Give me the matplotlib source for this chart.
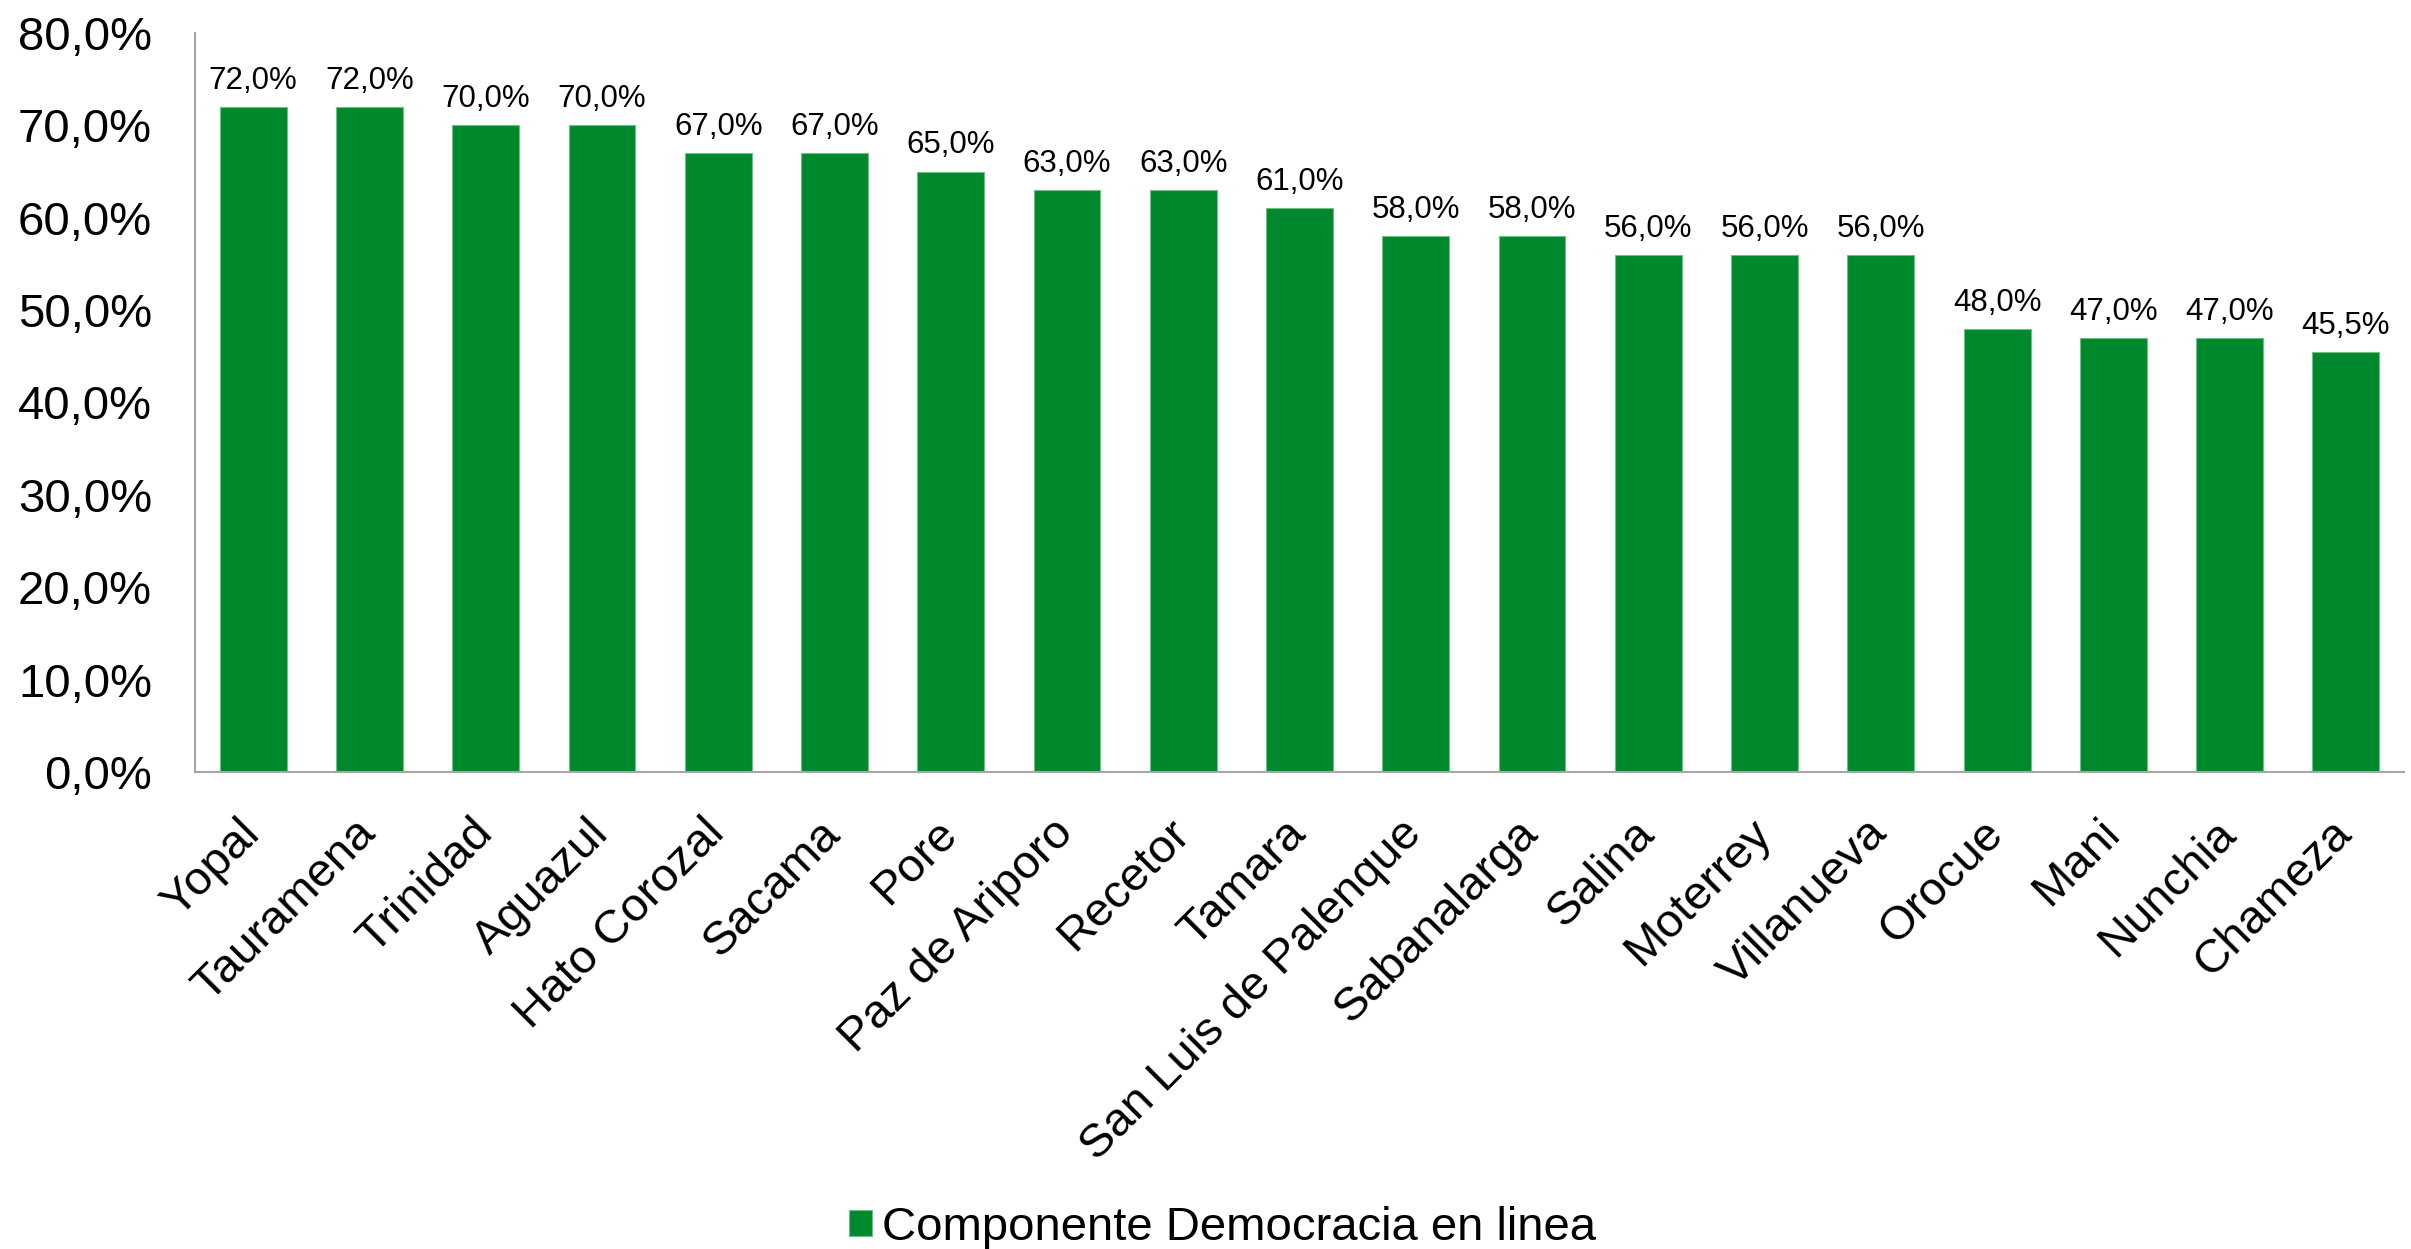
import matplotlib
matplotlib.use('Agg')
import matplotlib.pyplot as plt
import matplotlib.transforms as mtransforms
from matplotlib.ticker import FuncFormatter

plt.rcParams['font.family'] = ['Liberation Sans', 'DejaVu Sans']

# data
municipios = ['Yopal', 'Tauramena', 'Trinidad', 'Aguazul', 'Hato Corozal', 'Sacama',
              'Pore', 'Paz de Ariporo', 'Recetor', 'Tamara', 'San Luis de Palenque',
              'Sabanalarga', 'Salina', 'Moterrey', 'Villanueva', 'Orocue', 'Mani',
              'Nunchia', 'Chameza']
valores = [72.0, 72.0, 70.0, 70.0, 67.0, 67.0, 65.0, 63.0, 63.0, 61.0, 58.0,
           58.0, 56.0, 56.0, 56.0, 48.0, 47.0, 47.0, 45.5]
serie = 'Componente Democracia en linea'

verde = '#00882c'
gris = '#a6a6a6'

def pct(v):
    return '{:.1f}%'.format(v).replace('.', ',')

fig = plt.figure(figsize=(24.11, 12.49), dpi=100)
ax = fig.add_axes([0.0809, 0.3819, 0.9162, 0.5917])

x = list(range(len(municipios)))
bars = ax.bar(x, valores, width=0.575, color=verde, edgecolor='#6fbf86',
              linewidth=0.8, label=serie, zorder=2)

# value labels above each bar
for b, v in zip(bars, valores):
    ax.annotate(pct(v), (b.get_x() + b.get_width() / 2, v),
                xytext=(0, 13), textcoords='offset points',
                ha='center', va='baseline', fontsize=22.5)

ax.set_xlim(-0.5, len(municipios) - 0.5)
ax.set_ylim(0, 80)
ax.set_yticks(range(0, 81, 10))
ax.yaxis.set_major_formatter(FuncFormatter(lambda v, p: pct(v)))
ax.tick_params(axis='y', length=0, pad=31, labelsize=34)
ax.tick_params(axis='x', length=0, pad=8, labelsize=34)
ax.set_xticks(x)
ax.set_xticklabels(municipios, rotation=45, ha='right', va='top',
                   rotation_mode='anchor')

# nudge the rotated labels a bit left and down, like the original
shift = mtransforms.ScaledTranslation(-16 / 100, -28 / 100, fig.dpi_scale_trans)
for lbl in ax.get_xticklabels():
    lbl.set_transform(lbl.get_transform() + shift)

for s in ['top', 'right']:
    ax.spines[s].set_visible(False)
for s in ['left', 'bottom']:
    ax.spines[s].set_color(gris)
    ax.spines[s].set_linewidth(1.5)

fig.legend(loc='center', bbox_to_anchor=(0.507, 0.017), frameon=False,
           fontsize=34, handlelength=0.5, handleheight=0.5,
           handletextpad=0.2)

fig.savefig('out.png', dpi=100)
